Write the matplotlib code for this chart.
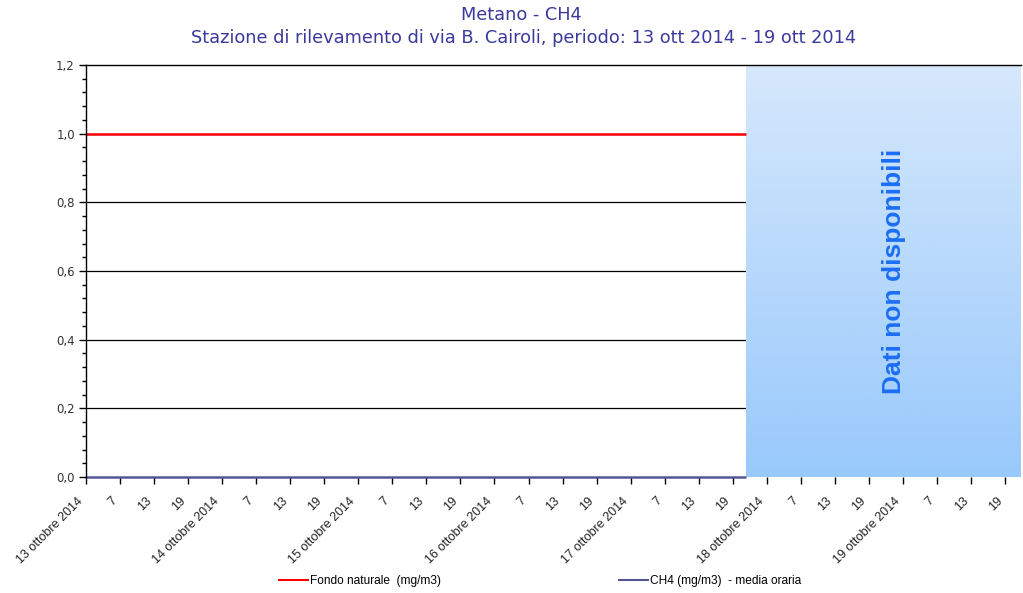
import numpy as np
import matplotlib
matplotlib.use("Agg")
import matplotlib.pyplot as plt
from matplotlib.ticker import MultipleLocator, FixedLocator
from matplotlib.colors import LinearSegmentedColormap
from matplotlib.transforms import ScaledTranslation

# ---- data ----
title_lines = ["Metano - CH4",
               "Stazione di rilevamento di via B. Cairoli, periodo: 13 ott 2014 - 19 ott 2014"]
day_labels = ["13 ottobre 2014", "14 ottobre 2014", "15 ottobre 2014", "16 ottobre 2014",
              "17 ottobre 2014", "18 ottobre 2014", "19 ottobre 2014"]
hour_labels = ["7", "13", "19"]
series_hours = [0.0, 116.4]          # hours from start, period with data
fondo_naturale = [1.0, 1.0]          # mg/m3
ch4_media_oraria = [0.0, 0.0]        # mg/m3
nodata_start, nodata_end = 116.4, 164.8
x_max = 164.8
y_max = 1.2
legend_labels = ["Fondo naturale  (mg/m3)", "CH4 (mg/m3)  - media oraria"]
nodata_text = "Dati non disponibili"

fig = plt.figure(figsize=(10.23, 5.93), dpi=100)
ax = fig.add_axes([86 / 1023, 116 / 593, 935 / 1023, 412 / 593])

ax.set_xlim(0, x_max)
ax.set_ylim(0, y_max)

# gradient for missing data area
cmap = LinearSegmentedColormap.from_list("nd", ["#99c9fc", "#d6e8fc"])
grad = np.linspace(0, 1, 256).reshape(-1, 1)
ax.imshow(grad, cmap=cmap, aspect="auto", origin="lower",
          extent=[nodata_start, nodata_end, 0, y_max], zorder=3, interpolation="bicubic")
ax.text((nodata_start + nodata_end) / 2 + 1.8, y_max / 2, nodata_text, rotation=90,
        ha="center", va="center", fontsize=19, fontweight="bold", color="#1a6ef5",
        family=["Liberation Sans", "DejaVu Sans"], zorder=4)

# grid lines
for v in [0.2, 0.4, 0.6, 0.8, 1.0]:
    ax.axhline(v, color="black", lw=0.9, zorder=1)

l1, = ax.plot(series_hours, fondo_naturale, color="#ff0000", lw=1.8, zorder=5,
              solid_capstyle="butt")
l2, = ax.plot(series_hours, ch4_media_oraria, color="#55559a", lw=1.8, zorder=5,
              solid_capstyle="butt", clip_on=False)

ax.spines["right"].set_visible(False)
ax.spines["bottom"].set_visible(False)
ax.spines["top"].set_zorder(6)
ax.spines["left"].set_zorder(6)
for s in ["top", "left"]:
    ax.spines[s].set_linewidth(1.0)

# y axis
ax.yaxis.set_major_locator(MultipleLocator(0.2))
ax.yaxis.set_minor_locator(MultipleLocator(0.04))
ax.set_yticklabels([f"{v:.1f}".replace(".", ",") for v in ax.get_yticks()])
ax.tick_params(axis="y", which="major", length=5, width=1, labelsize=8.5,
               labelcolor="#333333", pad=3)
ax.tick_params(axis="y", which="minor", length=3, width=1)
for t in ax.get_yticklabels():
    t.set_family(["DejaVu Sans"])

# x axis
ticks = []
labels = []
for d, dl in enumerate(day_labels):
    ticks.append(d * 24)
    labels.append(dl)
    for k, hl in enumerate(hour_labels):
        ticks.append(d * 24 + 6 * (k + 1))
        labels.append(hl)
ticks_l = [(t, l) for t, l in zip(ticks, labels) if t <= x_max]
ax.xaxis.set_major_locator(FixedLocator([t for t, _ in ticks_l]))
ax.set_xticklabels([l for _, l in ticks_l])
ax.tick_params(axis="x", which="major", length=5, width=1, pad=8, labelsize=9.0,
               labelcolor="#222222")
offset = ScaledTranslation(-9 / 100, 0, fig.dpi_scale_trans)
for t in ax.get_xticklabels():
    t.set_rotation(45)
    t.set_ha("right")
    t.set_va("top")
    t.set_rotation_mode("anchor")
    t.set_family(["Liberation Sans Narrow", "Liberation Sans", "DejaVu Sans"])
    t.set_transform(t.get_transform() + offset)

# title
fig.text(0.510, 1 - 15 / 593, title_lines[0], ha="center", va="center",
         fontsize=12.8, color="#3a3a9c", family=["DejaVu Sans"])
fig.text(0.512, 1 - 38 / 593, title_lines[1], ha="center", va="center",
         fontsize=12.8, color="#3a3a9c", family=["DejaVu Sans"])

# legend
leg = fig.legend([l1, l2], legend_labels, loc="center left",
                 bbox_to_anchor=(278 / 1023, 1 - 581 / 593), ncol=2, frameon=False,
                 prop={"family": ["Liberation Sans", "DejaVu Sans"], "size": 8.6},
                 handlelength=2.6, handletextpad=0.12, columnspacing=14.75,
                 borderaxespad=0, borderpad=0)
for h in leg.legend_handles:
    h.set_linewidth(1.5)

fig.savefig("out.png", dpi=100)
